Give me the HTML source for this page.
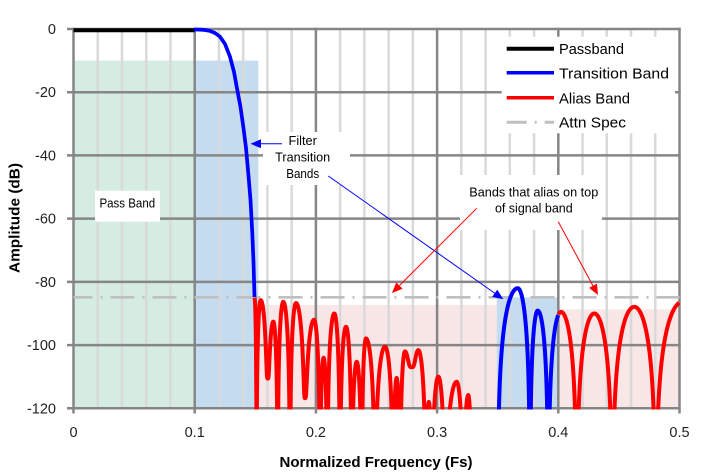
<!DOCTYPE html>
<html><head><meta charset="utf-8">
<style>
html,body{margin:0;padding:0;background:#fff;}
svg{display:block;}
text{font-family:"Liberation Sans",Arial,sans-serif;}
</style></head>
<body>
<svg id="c" width="719" height="473" viewBox="0 0 719 473" xmlns="http://www.w3.org/2000/svg">
<defs><clipPath id="pc"><rect x="72" y="20" width="609" height="389.5"/></clipPath></defs>
<rect width="719" height="473" fill="#fff"/>

<!-- shaded regions -->
<rect x="73.5" y="60.6" width="121.2" height="347.7" fill="#d4ece1"/>
<rect x="194.7" y="60.6" width="63.6" height="347.7" fill="#c5dbf0"/>
<rect x="258.3" y="305" width="238.4" height="103.3" fill="#f9e6e6"/>
<rect x="496.7" y="297.3" width="61.6" height="111" fill="#c5dbf0"/>
<rect x="558.3" y="309.3" width="121.2" height="99" fill="#f9e6e6"/>

<!-- minor vertical gridlines -->
<g stroke="#d9d9d9" stroke-width="2.5">
<line x1="97.74" y1="29" x2="97.74" y2="408.3"/>
<line x1="121.98" y1="29" x2="121.98" y2="408.3"/>
<line x1="146.22" y1="29" x2="146.22" y2="408.3"/>
<line x1="170.46" y1="29" x2="170.46" y2="408.3"/>
<line x1="218.94" y1="29" x2="218.94" y2="408.3"/>
<line x1="243.18" y1="29" x2="243.18" y2="408.3"/>
<line x1="267.42" y1="29" x2="267.42" y2="408.3"/>
<line x1="291.66" y1="29" x2="291.66" y2="408.3"/>
<line x1="340.14" y1="29" x2="340.14" y2="408.3"/>
<line x1="364.38" y1="29" x2="364.38" y2="408.3"/>
<line x1="388.62" y1="29" x2="388.62" y2="408.3"/>
<line x1="412.86" y1="29" x2="412.86" y2="408.3"/>
<line x1="461.34" y1="29" x2="461.34" y2="408.3"/>
<line x1="485.58" y1="29" x2="485.58" y2="408.3"/>
<line x1="509.82" y1="29" x2="509.82" y2="408.3"/>
<line x1="534.06" y1="29" x2="534.06" y2="408.3"/>
<line x1="582.54" y1="29" x2="582.54" y2="408.3"/>
<line x1="606.78" y1="29" x2="606.78" y2="408.3"/>
<line x1="631.02" y1="29" x2="631.02" y2="408.3"/>
<line x1="655.26" y1="29" x2="655.26" y2="408.3"/>
</g>
<!-- major gridlines -->
<g stroke="#868686" stroke-width="2.5">
<line x1="73.5" y1="27.8" x2="73.5" y2="413.5"/>
<line x1="194.7" y1="27.8" x2="194.7" y2="413.5"/>
<line x1="315.9" y1="27.8" x2="315.9" y2="413.5"/>
<line x1="437.1" y1="27.8" x2="437.1" y2="413.5"/>
<line x1="558.3" y1="27.8" x2="558.3" y2="413.5"/>
<line x1="679.5" y1="27.8" x2="679.5" y2="413.5"/>
<line x1="67" y1="29" x2="680.7" y2="29"/>
<line x1="67" y1="92.2" x2="680.7" y2="92.2"/>
<line x1="67" y1="155.4" x2="680.7" y2="155.4"/>
<line x1="67" y1="218.6" x2="680.7" y2="218.6"/>
<line x1="67" y1="281.9" x2="680.7" y2="281.9"/>
<line x1="67" y1="345.1" x2="680.7" y2="345.1"/>
<line x1="67" y1="408.3" x2="680.7" y2="408.3"/>
</g>

<!-- white label boxes -->
<rect x="501.7" y="36.7" width="173.3" height="96.6" fill="#fff"/>
<rect x="263" y="132" width="87" height="53" fill="#fff"/>
<rect x="95" y="190.7" width="65" height="31" fill="#fff"/>
<rect x="460" y="175" width="142" height="55" fill="#fff"/>

<!-- attenuation spec -->
<line x1="73.5" y1="297.3" x2="679.5" y2="297.3" stroke="#bfbfbf" stroke-width="2.7" stroke-dasharray="24 8 2 8" stroke-dashoffset="5"/>

<!-- curves -->
<g clip-path="url(#pc)" fill="none" stroke-linejoin="round" stroke-linecap="butt">
<line x1="73.5" y1="30.3" x2="194.7" y2="30.3" stroke="#000" stroke-width="4"/>
<polyline stroke="#0000ff" stroke-width="3.7" points="194,29.5 200,29.6 205,30 210,30.9 215,33 220,36.7 225,44 230,56.7 234,72 237.3,90 240.5,107 243.3,126.7 246,148 248.3,173.3 250.5,200 252.3,233.3 253.5,262 254.5,297"/>
<path id="red1" stroke="#ff0000" stroke-width="4" d=""/>
<path id="blue2" stroke="#0000ff" stroke-width="4" d=""/>
<path id="red2" stroke="#ff0000" stroke-width="4" d=""/>
</g>

<!-- arrows -->
<g stroke-width="1">
<line x1="282" y1="143.7" x2="260" y2="143.7" stroke="#0000ff"/>
<polygon points="250.5,143.7 261,139.2 261,148.2" fill="#0000ff"/>
<line x1="328.3" y1="176" x2="495" y2="293.4" stroke="#0000ff"/>
<polygon points="503.3,299.3 497.31,289.57 492.13,296.93" fill="#0000ff"/>
<line x1="476.7" y1="208.3" x2="399.6" y2="285.4" stroke="#ff0000"/>
<polygon points="392,293 402.6,288.76 396.24,282.4" fill="#ff0000"/>
<line x1="558.3" y1="221.7" x2="593.2" y2="286.2" stroke="#ff0000"/>
<polygon points="598,295 589.04,287.91 596.96,283.63" fill="#ff0000"/>
</g>

<!-- legend -->
<line x1="506.7" y1="48.7" x2="554" y2="48.7" stroke="#000" stroke-width="4"/>
<line x1="506.7" y1="72.7" x2="554" y2="72.7" stroke="#0000ff" stroke-width="3.5"/>
<line x1="506.7" y1="97.7" x2="554" y2="97.7" stroke="#ff0000" stroke-width="3.5"/>
<line x1="506.7" y1="122.3" x2="554" y2="122.3" stroke="#bfbfbf" stroke-width="3" stroke-dasharray="20 8 2 8"/>
<g font-size="15" fill="#000">
<text x="559" y="54" textLength="65" lengthAdjust="spacingAndGlyphs">Passband</text>
<text x="559" y="78.3" textLength="110" lengthAdjust="spacingAndGlyphs">Transition Band</text>
<text x="559" y="103.3" textLength="71" lengthAdjust="spacingAndGlyphs">Alias Band</text>
<text x="559" y="127.3" textLength="67" lengthAdjust="spacingAndGlyphs">Attn Spec</text>
</g>

<!-- annotation texts -->
<g font-size="12.5" fill="#000" text-anchor="middle">
<text x="302.7" y="145" textLength="28.3" lengthAdjust="spacingAndGlyphs">Filter</text>
<text x="302.7" y="161.5" textLength="55" lengthAdjust="spacingAndGlyphs">Transition</text>
<text x="302.7" y="177.8" textLength="33" lengthAdjust="spacingAndGlyphs">Bands</text>
<text x="127.3" y="207.5" textLength="55.7" lengthAdjust="spacingAndGlyphs">Pass Band</text>
<text x="533.8" y="196.7" textLength="129" lengthAdjust="spacingAndGlyphs">Bands that alias on top</text>
<text x="533.8" y="212.5" textLength="77.7" lengthAdjust="spacingAndGlyphs">of signal band</text>
</g>

<!-- y tick labels -->
<g font-size="14.5" fill="#222" text-anchor="end">
<text x="56" y="34">0</text>
<text x="56" y="97.2">-20</text>
<text x="56" y="160.4">-40</text>
<text x="56" y="223.6">-60</text>
<text x="56" y="286.9">-80</text>
<text x="56" y="350.1">-100</text>
<text x="56" y="413.3">-120</text>
</g>
<!-- x tick labels -->
<g font-size="14.5" fill="#222" text-anchor="middle">
<text x="73.5" y="437">0</text>
<text x="194.7" y="437">0.1</text>
<text x="315.9" y="437">0.2</text>
<text x="437.1" y="437">0.3</text>
<text x="558.3" y="437">0.4</text>
<text x="679.5" y="437">0.5</text>
</g>

<!-- axis titles -->
<text x="376" y="467" font-size="15" font-weight="bold" text-anchor="middle" fill="#000" textLength="193" lengthAdjust="spacingAndGlyphs">Normalized Frequency (Fs)</text>
<text x="19.7" y="218" font-size="15" font-weight="bold" text-anchor="middle" fill="#000" textLength="110" lengthAdjust="spacingAndGlyphs" transform="rotate(-90 19.7 218)">Amplitude (dB)</text>
</svg>

<script>
(function(){
var Y=function(db){return 29+(-db)*3.1608;};
var Z=-400;
function build(nodes,x0,x1){
  var pts=[];
  for(var i=0;i<nodes.length-1;i++){
    var A=nodes[i],B=nodes[i+1];
    var P=A[2]?A:B, N=A[2]?B:A;
    var e=Math.pow(10,(N[1]-P[1])/10);
    var n=Math.max(6,Math.ceil(Math.abs(B[0]-A[0])*4));
    for(var s=(i?1:0);s<=n;s++){
      var x=A[0]+(B[0]-A[0])*s/n;
      if(x<x0-0.01||x>x1+0.01)continue;
      var u=Math.min(0.5,Math.abs(x-N[0])/Math.abs(P[0]-N[0])*0.5);
      var sn=Math.sin(Math.PI*u);
      var v=P[1]+10*Math.log10(Math.pow(sn,4)*(1-e)+e);
      if(!isFinite(v)||v<-124)v=-124;
      pts.push(x.toFixed(2)+','+Y(v).toFixed(2));
    }
  }
  return 'M'+pts.join('L');
}
var red1=[
 [254.5,-85,1],[256.5,Z,0],[260.7,-85.8,1],[267.7,-110.6,0],[273.3,-92.6,1],[277.7,Z,0],
 [283.3,-86.3,1],[290,Z,0],[296,-86.7,1],[305,-116.8,0],[314,-92,1],[320,Z,0],
 [323.6,-104,1],[327.3,Z,0],[334.3,-90,1],[340,Z,0],[346,-94.2,1],[351.7,Z,0],
 [356.7,-105.3,1],[361.7,Z,0],[366,-97.9,1],[375,Z,0],[385,-100.5,1],[393.3,Z,0],
 [396.6,-110.4,1],[400,Z,0],[405,-102,1],[411.7,-107,0],[418.3,-101.6,1],[426,Z,0],
 [428.8,-118,1],[431.7,Z,0],[438.3,-110,1],[445,Z,0],[456.7,-111.6,1],[463.3,Z,0],
 [468.3,-115.8,1],[471.7,Z,0]
];
var blue2=[[497.5,Z,0],[517.7,-82,1],[530,Z,0],[537.7,-89.1,1],[548.3,Z,0],[561,-89.5,1]];
var red2=[[548.3,Z,0],[561,-89.5,1],[576.7,Z,0],[594.3,-90,1],[612.3,Z,0],[634.3,-87.9,1],[655.7,Z,0],[683,-86.2,1]];
document.getElementById('red1').setAttribute('d',build(red1,254.5,472));
document.getElementById('blue2').setAttribute('d',build(blue2,490,558.3));
document.getElementById('red2').setAttribute('d',build(red2,558.3,679.5));
})();
</script>
</body></html>
